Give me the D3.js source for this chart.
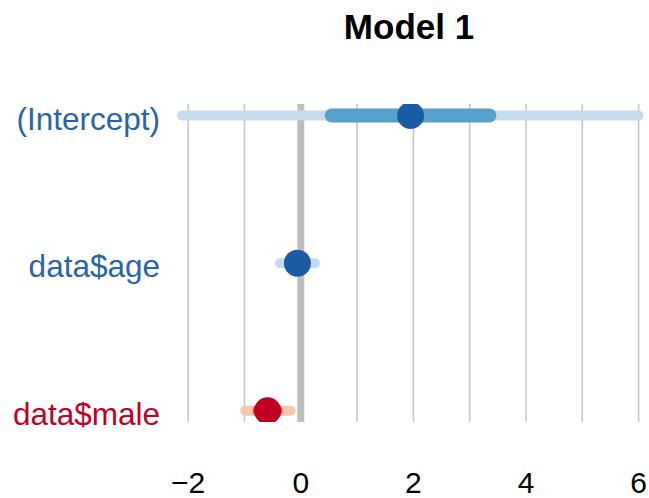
<!DOCTYPE html>
<html>

<head>
    <meta charset="utf-8">
    <script src="https://d3js.org/d3.v7.min.js"></script>
    <style>
        body { margin: 0; background: #fff; }
        text { font-family: "Liberation Sans", Arial, sans-serif; }
    </style>
</head>

<body>
    <div id="my_dataviz"></div>
    <script>
    // model terms and estimates
    var terms = ["(Intercept)", "data$age", "data$male"];
    var estimates = [1.95, -0.06, -0.59];
    var innerLow = [0.55, -0.16, -0.73];
    var innerHigh = [3.35, 0.04, -0.45];
    var outerLow = [-2.11, -0.37, -0.99];
    var outerHigh = [6.0, 0.25, -0.18];
    var xTicks = [-2, 0, 2, 4, 6];
    var xGrid = [-2, -1, 1, 2, 3, 4, 5, 6];

    var width = 649, height = 498;
    var panel = { left: 170, right: 645, top: 104, bottom: 422 };

    var svg = d3.select("#my_dataviz")
        .append("svg")
        .attr("width", width)
        .attr("height", height);

    var x = d3.scaleLinear().domain([0, 6]).range([300.8, 638.6]);
    var y = d3.scalePoint().domain(terms).range([115.5, 410.8]);

    var data = terms.map(function(t, i) {
        return {
            term: t, est: estimates[i],
            lo: innerLow[i], hi: innerHigh[i],
            lo2: outerLow[i], hi2: outerHigh[i]
        };
    });

    function pos(d) { return d.est >= 0 || d.term == "data$age"; }

    svg.append("defs").append("clipPath").attr("id", "panel")
        .append("rect")
        .attr("x", panel.left).attr("y", panel.top)
        .attr("width", panel.right - panel.left)
        .attr("height", panel.bottom - panel.top);

    // grid
    svg.selectAll("line.grid")
        .data(xGrid)
        .enter()
        .append("line")
        .attr("class", "grid")
        .attr("x1", (d) => x(d)).attr("x2", (d) => x(d))
        .attr("y1", panel.top).attr("y2", panel.bottom)
        .style("stroke", "#c8c8c8")
        .style("stroke-width", 1.6);

    svg.append("line")
        .attr("x1", x(0)).attr("x2", x(0))
        .attr("y1", panel.top).attr("y2", panel.bottom)
        .style("stroke", "#bebebe")
        .style("stroke-width", 7);

    var g = svg.append("g").attr("clip-path", "url(#panel)");

    g.selectAll("line.outer")
        .data(data)
        .enter()
        .append("line")
        .attr("x1", (d) => x(d.lo2)).attr("x2", (d) => x(d.hi2))
        .attr("y1", (d) => y(d.term)).attr("y2", (d) => y(d.term))
        .style("stroke", (d) => pos(d) ? "#c5dcec" : "#fcc5b0")
        .style("stroke-width", 10)
        .style("stroke-linecap", "round");

    g.selectAll("line.inner")
        .data(data)
        .enter()
        .append("line")
        .attr("x1", (d) => x(d.lo)).attr("x2", (d) => x(d.hi))
        .attr("y1", (d) => y(d.term)).attr("y2", (d) => y(d.term))
        .style("stroke", (d) => pos(d) ? "#5aa0cd" : "#ea4a3c")
        .style("stroke-width", 14)
        .style("stroke-linecap", "round");

    g.selectAll("circle")
        .data(data)
        .enter()
        .append("circle")
        .attr("cx", (d) => x(d.est))
        .attr("cy", (d) => y(d.term))
        .attr("r", 13.5)
        .style("fill", (d) => pos(d) ? "#1c5ba6" : "#bf0020");

    // term labels
    svg.selectAll("text.term")
        .data(data)
        .enter()
        .append("text")
        .attr("x", 160)
        .attr("y", (d) => y(d.term) + 14)
        .attr("text-anchor", "end")
        .style("font-size", "31.5px")
        .style("fill", (d) => pos(d) ? "#2a63ad" : "#c2001f")
        .text((d) => d.term);

    // x tick labels
    svg.selectAll("text.tick")
        .data(xTicks)
        .enter()
        .append("text")
        .attr("x", (d) => x(d))
        .attr("y", 493)
        .attr("text-anchor", "middle")
        .style("font-size", "30px")
        .style("fill", "#000")
        .text((d) => d < 0 ? "\u2212" + Math.abs(d) : d);

    svg.append("text")
        .attr("x", 409)
        .attr("y", 38.5)
        .attr("text-anchor", "middle")
        .style("font-size", "35px")
        .style("font-weight", "bold")
        .text("Model 1");
    </script>
</body>

</html>
